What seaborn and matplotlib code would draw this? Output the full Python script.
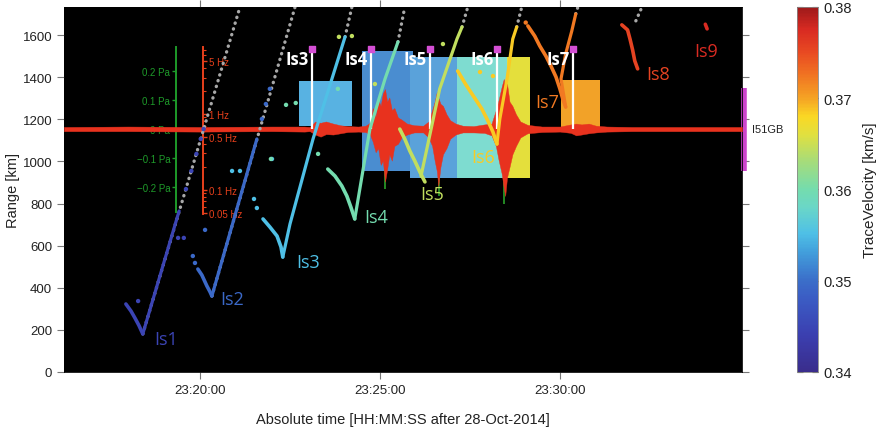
import numpy as np
import pandas as pd
import seaborn as sns
import matplotlib.pyplot as plt
from matplotlib.colors import LinearSegmentedColormap, Normalize
from matplotlib.cm import ScalarMappable
from matplotlib.patches import Rectangle
from matplotlib.ticker import FixedLocator, FixedFormatter, LogLocator, NullFormatter

# x = minutes after 23:00:00 (28-Oct-2014), y = range in km
xlim = (16.22, 35.06)
ylim = (0, 1734)
xticks = [20, 25, 30]
xtick_labels = ['23:20:00', '23:25:00', '23:30:00']
yticks = [0, 200, 400, 600, 800, 1000, 1200, 1400, 1600]

# trace velocity colour scale
cbar_ticks = [0.34, 0.35, 0.36, 0.37, 0.38]
cbar_labels = ['0.34', '0.35', '0.36', '0.37', '0.38']
cmap_pos = [0.0, 0.1, 0.2, 0.25, 0.33, 0.38, 0.45, 0.5, 0.58, 0.65, 0.7, 0.75, 0.82, 0.88, 0.94, 1.0]
cmap_hex = ['#3a2d8c', '#3b3fb0', '#3b5cc4', '#3b6ec9', '#42a0dc', '#4fc0e6', '#6ad6c8', '#74dcae',
            '#a8dc78', '#e0e040', '#fad824', '#f5a424', '#f07022', '#e84822', '#d82a22', '#9e1a1a']

# detections
events = ['Is1', 'Is2', 'Is3', 'Is4', 'Is5', 'Is6', 'Is7', 'Is8', 'Is9']
velocity = [0.3448, 0.3495, 0.3553, 0.360, 0.3645, 0.3685, 0.3722, 0.3755, 0.3775]
label_t = [19.05, 20.89, 23.00, 24.89, 26.44, 27.86, 29.66, 32.72, 34.05]
label_r = [157, 347, 523, 736, 846, 1021, 1283, 1416, 1525]

left_arm = {
    'Is1': [(17.94, 323), (18.08, 290), (18.19, 257), (18.30, 222), (18.41, 181)],
    'Is2': [(19.94, 489), (20.05, 461), (20.19, 409), (20.28, 380), (20.33, 361)],
    'Is3': [(21.75, 727), (21.94, 689), (22.14, 646), (22.25, 594), (22.30, 546)],
    'Is4': [(23.55, 964), (23.75, 931), (23.94, 884), (24.08, 836), (24.19, 784), (24.30, 727)],
    'Is5': [(25.55, 1154), (25.69, 1107), (25.83, 1050), (25.97, 1002), (26.11, 950), (26.25, 903)],
    'Is6': [(27.16, 1430), (27.39, 1364), (27.61, 1307), (27.83, 1250), (28.00, 1193), (28.14, 1140), (28.25, 1083)],
    'Is7': [(29.11, 1644), (29.30, 1596), (29.44, 1549), (29.61, 1501), (29.75, 1454), (29.89, 1402),
            (30.00, 1345), (30.08, 1297), (30.16, 1259)],
    'Is8': [(31.72, 1649), (31.88, 1625), (31.95, 1580), (32.02, 1530), (32.08, 1478), (32.16, 1440)],
    'Is9': [(34.04, 1652), (34.09, 1630)],
}
right_arm = {
    'Is1': [(18.41, 181), (19.42, 765)],
    'Is2': [(20.33, 361), (21.58, 1107)],
    'Is3': [(22.30, 546), (22.50, 703), (23.14, 1107), (23.69, 1406), (24.03, 1592)],
    'Is4': [(24.30, 727), (24.44, 869), (24.72, 1154), (25.14, 1392), (25.50, 1568)],
    'Is5': [(26.14, 930), (26.66, 1345), (27.14, 1582), (27.28, 1639)],
    'Is6': [(28.25, 1083), (28.33, 1202), (28.53, 1392), (28.69, 1582), (28.80, 1639)],
    'Is7': [(30.16, 1259), (30.03, 1392), (30.16, 1511), (30.33, 1620), (30.44, 1701)],
}
# single detections scattered around the arms
loose_dots = {
    'Is1': [(18.28, 337), (19.39, 637), (19.55, 637), (19.61, 869), (19.76, 955), (19.90, 1036),
            (20.02, 1107), (20.10, 1154)],
    'Is2': [(19.80, 551), (19.86, 518), (20.14, 675), (21.72, 1202), (21.83, 1273), (21.94, 1345)],
    'Is3': [(20.89, 955), (21.11, 955), (21.50, 822), (21.58, 779), (22.00, 1012)],
    'Is4': [(22.39, 1269), (22.66, 1278), (23.28, 1036), (23.83, 1345), (21.97, 1012)],
    'Is5': [(23.86, 1592), (24.22, 1596), (24.86, 1368), (26.75, 1558)],
    'Is6': [(27.78, 1425), (28.14, 1406)],
    'Is7': [(29.05, 1660)],
}
# theoretical arrival lines (grey dotted)
gray_t0 = [18.41, 20.33, 24.03, 25.50, 27.28, 28.80, 30.44, 32.11]
gray_r0 = [181, 361, 1592, 1568, 1639, 1639, 1701, 1668]
gray_t1 = [21.11, 22.64, 24.22, 25.69, 27.44, 28.94, 30.50, 32.28]
gray_r1 = [1734, 1734, 1734, 1734, 1734, 1734, 1734, 1734]

# analysis windows
box_t0 = [22.75, 24.50, 25.83, 27.14, 28.53, 30.03]
box_t1 = [24.22, 25.91, 27.14, 28.53, 29.16, 31.11]
box_r0 = [1169, 955, 922, 922, 922, 1140]
box_r1 = [1382, 1525, 1497, 1497, 1497, 1387]
box_colors = ['#58b2e2', '#4a8dd0', '#5aa2da', '#7edcd0', '#e4df3c', '#f2a228']

arrival_names = ['Is3', 'Is4', 'Is5', 'Is6', 'Is7']
arrival_t = [23.11, 24.75, 26.39, 28.25, 30.36]
arrival_top = 1535

# I51GB waveform envelope (baseline at station range)
station_r = 1154
wave_t = [16.22, 18.0, 20.0, 22.0, 22.9, 23.05, 23.2, 23.35, 23.5, 23.7, 23.9, 24.1, 24.4, 24.6, 24.72,
          24.8, 24.88, 24.95, 25.02, 25.08, 25.14, 25.2, 25.26, 25.33, 25.4, 25.5, 25.6, 25.75, 25.95,
          26.2, 26.35, 26.45, 26.52, 26.58, 26.62, 26.68, 26.75, 26.85, 26.95, 27.1, 27.3, 27.6, 27.9,
          28.1, 28.22, 28.3, 28.38, 28.44, 28.48, 28.53, 28.6, 28.68, 28.78, 28.9, 29.1, 29.5, 30.0,
          30.3, 30.45, 30.6, 30.8, 31.0, 31.3, 32.0, 35.06]
wave_up = [10, 12, 10, 12, 12, 10, 36, 30, 36, 26, 18, 14, 12, 16, 30,
           100, 60, 140, 110, 170, 190, 130, 150, 90, 100, 55, 45, 26, 18,
           16, 36, 90, 130, 176, 150, 120, 110, 70, 42, 26, 16, 14, 22,
           26, 90, 140, 200, 238, 200, 215, 130, 110, 70, 36, 20, 12, 12,
           22, 26, 22, 26, 16, 12, 10, 10]
wave_dn = [10, 10, 12, 10, 12, 10, 26, 36, 24, 26, 20, 14, 12, 14, 26,
           60, 110, 90, 170, 150, 250, 190, 120, 150, 80, 70, 40, 26, 16,
           16, 40, 80, 150, 200, 270, 180, 120, 90, 46, 26, 16, 16, 18,
           30, 80, 150, 210, 280, 318, 230, 180, 120, 80, 40, 20, 14, 12,
           18, 30, 26, 20, 16, 12, 10, 10]
spike_t = [25.13, 26.63, 28.46]
spike_low = [869, 836, 800]

# scale bars
pa_ticks = [-0.2, -0.1, 0.0, 0.1, 0.2]
pa_labels = ['\u22120.2 Pa', '\u22120.1 Pa', '0 Pa', '0.1 Pa', '0.2 Pa']
hz_ticks = [0.05, 0.1, 0.5, 1, 5]
hz_labels = ['0.05 Hz', '0.1 Hz', '0.5 Hz', '1 Hz', '5 Hz']

sns.set_style('ticks')
plt.rcParams['font.family'] = ['Liberation Sans', 'DejaVu Sans']

tv_cmap = LinearSegmentedColormap.from_list('tv', list(zip(cmap_pos, cmap_hex)))
norm = Normalize(0.34, 0.38)
vel = dict(zip(events, velocity))

fig = plt.figure(figsize=(8.8, 4.31), dpi=100)
ax = fig.add_axes([0.0727, 0.1346, 0.7705, 0.8469])
ax.set_facecolor('black')
ax.set_xlim(*xlim)
ax.set_ylim(*ylim)

for t0, t1, r0, r1, c in zip(box_t0, box_t1, box_r0, box_r1, box_colors):
    ax.add_patch(Rectangle((t0, r0), t1 - t0, r1 - r0, color=c, lw=0, zorder=1))

# waveform
wt = np.array(wave_t)
ax.vlines(spike_t, spike_low, station_r, color='#2aa02a', lw=1.2, zorder=3)
ax.fill_between(wt, station_r - np.array(wave_dn), station_r + np.array(wave_up),
                color='#e8321e', lw=0.3, zorder=3)

# arrival markers
ax.vlines(arrival_t, station_r, arrival_top, color='white', lw=1.6, zorder=4)
ax.scatter(arrival_t, [arrival_top] * len(arrival_t), marker='s', s=18, color='#d44fd4', zorder=8)
for name, t in zip(arrival_names, arrival_t):
    ax.text(t - 0.09, arrival_top - 48, name, ha='right', va='center', color='white',
            fontsize=12, fontweight='bold', family=['Open Sans', 'DejaVu Sans'], zorder=8)

# grey theoretical lines
for t0, r0, t1, r1 in zip(gray_t0, gray_r0, gray_t1, gray_r1):
    ax.plot([t0, t1], [r0, r1], color='#a8a8a8', lw=2.4, linestyle=(0, (0.1, 1.7)),
            dash_capstyle='round', zorder=5)

# detection arms
for name in events:
    c = tv_cmap(norm(vel[name]))
    pts = np.array(left_arm[name])
    ax.plot(pts[:, 0], pts[:, 1], color=c, lw=2.6, solid_capstyle='round', zorder=6)
    if name in right_arm:
        pts = np.array(right_arm[name])
        ax.plot(pts[:, 0], pts[:, 1], color=c, lw=2.3, solid_capstyle='round', zorder=6)

rows = []
for name, pts in loose_dots.items():
    for t, r in pts:
        rows.append({'t': t, 'r': r, 'v': vel[name]})
dots = pd.DataFrame(rows)
sns.scatterplot(data=dots, x='t', y='r', hue='v', palette=tv_cmap, hue_norm=norm, s=10,
                linewidth=0, legend=False, ax=ax, zorder=6)

for name, t, r in zip(events, label_t, label_r):
    ax.text(t, r, name, ha='center', va='center', color=tv_cmap(norm(vel[name])), fontsize=13,
            family=['Open Sans', 'DejaVu Sans'], zorder=7)

# pressure scale bar
green = '#1e9a2a'
pa = ax.inset_axes([19.33, 760, 0.01, 784], transform=ax.transData, zorder=2)
pa.set_ylim(-0.2855, 0.2826)
pa.patch.set_visible(False)
for side in ['top', 'bottom', 'right']:
    pa.spines[side].set_visible(False)
pa.spines['left'].set_color(green)
pa.spines['left'].set_linewidth(1.4)
pa.set_xticks([])
pa.yaxis.set_major_locator(FixedLocator(pa_ticks))
pa.yaxis.set_major_formatter(FixedFormatter(pa_labels))
pa.tick_params(axis='y', direction='out', length=3, width=1, color=green, labelcolor=green,
               labelsize=7, pad=1)

# frequency scale bar
red = '#e8401c'
hz = ax.inset_axes([20.08, 751, 0.01, 793], transform=ax.transData, zorder=2)
hz.set_yscale('log')
hz.set_ylim(0.048, 7.6)
hz.patch.set_visible(False)
for side in ['top', 'bottom', 'left']:
    hz.spines[side].set_visible(False)
hz.spines['right'].set_color(red)
hz.spines['right'].set_linewidth(1.4)
hz.set_xticks([])
hz.yaxis.tick_right()
hz.yaxis.set_major_locator(FixedLocator(hz_ticks))
hz.yaxis.set_major_formatter(FixedFormatter(hz_labels))
hz.yaxis.set_minor_locator(LogLocator(subs=np.arange(2, 10)))
hz.yaxis.set_minor_formatter(NullFormatter())
hz.tick_params(axis='y', which='major', direction='out', length=3, width=1, color=red,
               labelcolor=red, labelsize=7, pad=1)
hz.tick_params(axis='y', which='minor', direction='out', length=2, width=0.8, color=red)

# station marker
ax.plot([xlim[1] + 0.06] * 2, [955, 1349], color='#cc44cc', lw=4, solid_capstyle='butt', clip_on=False)
ax.text(xlim[1] + 0.28, station_r, 'I51GB', fontsize=8, va='center', ha='left', color='#222222')

ax.set_xticks(xticks)
ax.set_xticklabels(xtick_labels)
ax.set_yticks(yticks)
ax.tick_params(which='both', direction='out', top=True, right=True, length=5, width=0.8,
               color='#777777', labelsize=9.5, labelcolor='#222222')
ax.set_xlabel('Absolute time [HH:MM:SS after 28-Oct-2014]', fontsize=10.5, color='#222222', labelpad=12)
ax.set_ylabel('Range [km]', fontsize=10.5, color='#222222', labelpad=2)
for s in ax.spines.values():
    s.set_color('black')
    s.set_linewidth(0.6)

cax = fig.add_axes([0.9057, 0.1346, 0.0239, 0.8469])
cb = fig.colorbar(ScalarMappable(norm=norm, cmap=tv_cmap), cax=cax)
cb.set_ticks(cbar_ticks)
cb.set_ticklabels(cbar_labels)
cb.ax.tick_params(direction='in', left=True, right=True, length=4, width=0.8, color='#333333',
                  labelsize=10.5, labelcolor='#222222')
cb.outline.set_edgecolor('#888888')
cb.outline.set_linewidth(0.6)
cb.set_label('TraceVelocity [km/s]', fontsize=11, color='#222222', labelpad=8)

fig.savefig('out.png', dpi=100)
